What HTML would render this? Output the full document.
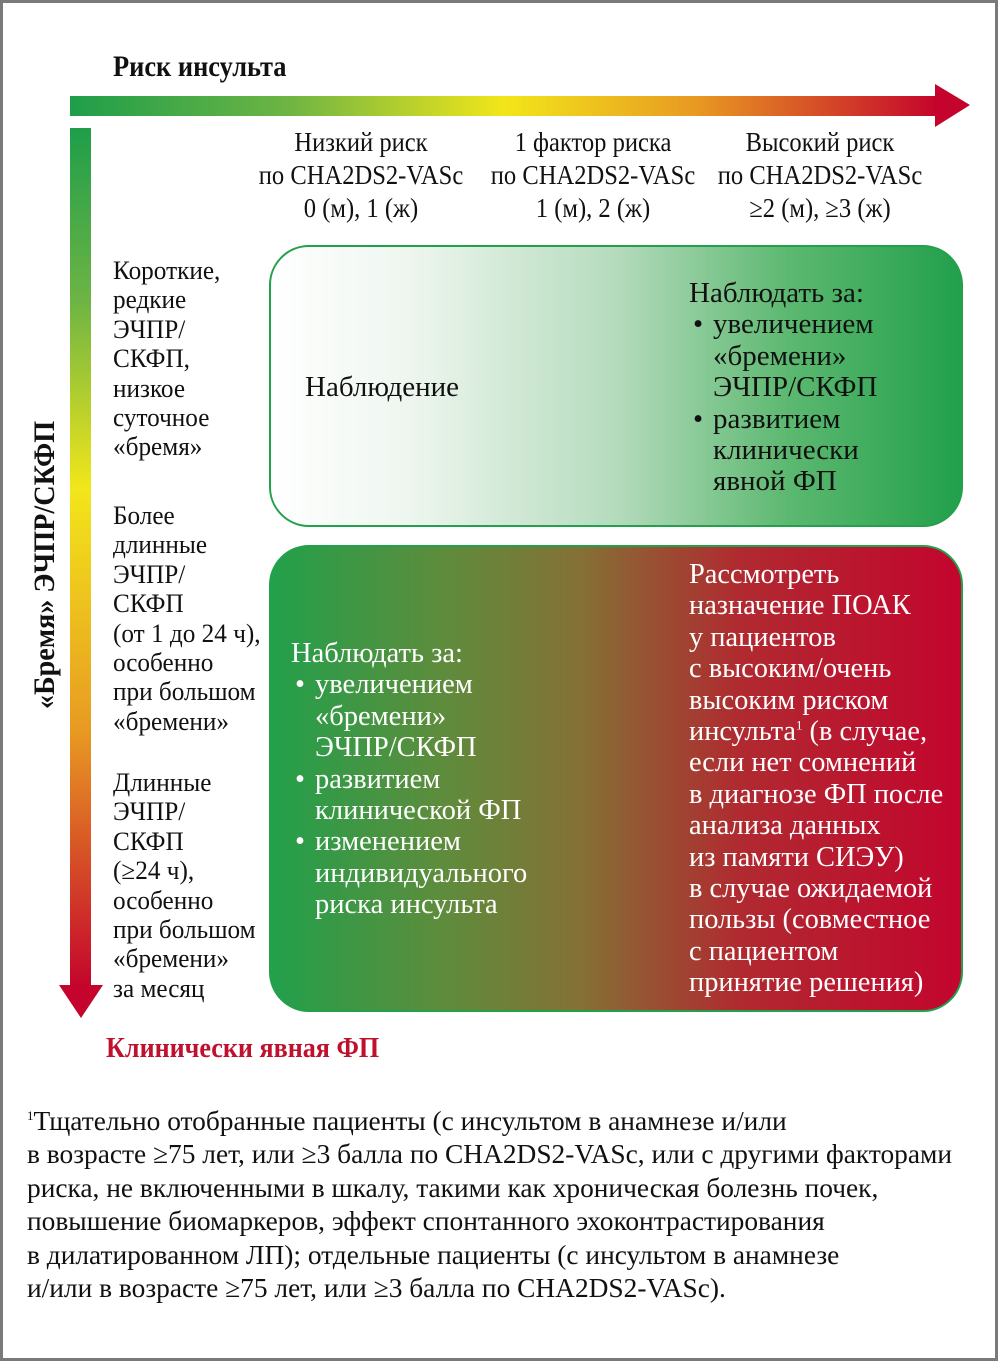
<!DOCTYPE html>
<html><head><meta charset="utf-8"><style>
*{margin:0;padding:0;box-sizing:border-box}
body{width:998px;height:1361px;background:#fff;position:relative;overflow:hidden;font-family:"Liberation Serif",serif;color:#111}
.frame{position:absolute;left:0;top:0;width:998px;height:1361px;border:3px solid #7a7a7a}
.a{position:absolute;white-space:nowrap}
.s{transform:scaleX(.97);transform-origin:left top}
.lab{font-size:26px;line-height:29.4px}
.hd{font-size:27px;line-height:33px;text-align:center;transform:scaleX(.91);transform-origin:center top;width:300px}
.bx{font-size:29px;line-height:31.4px}
.ind{padding-left:24px;position:relative}
.bul{position:absolute;left:4px;top:0}
</style></head><body>
<div class="frame"></div>

<div class="a" style="left:113px;top:50px;font-size:30px;font-weight:bold;transform:scaleX(.88);transform-origin:left top">Риск инсульта</div>

<svg class="a" style="left:0;top:0" width="998" height="1100">
<defs>
<linearGradient id="h" x1="0" x2="1" y1="0" y2="0">
<stop offset="0" stop-color="#1f9e4a"/><stop offset="0.25" stop-color="#6db444"/><stop offset="0.5" stop-color="#f2e61a"/><stop offset="0.72" stop-color="#e89a22"/><stop offset="1" stop-color="#c4042c"/></linearGradient>
<linearGradient id="v" x1="0" x2="0" y1="0" y2="1">
<stop offset="0" stop-color="#1f9e4a"/><stop offset="0.2" stop-color="#6db444"/><stop offset="0.42" stop-color="#f2e61a"/><stop offset="0.7" stop-color="#e89a22"/><stop offset="1" stop-color="#c4042c"/></linearGradient>
</defs>
<rect x="70" y="96" width="868" height="20" fill="url(#h)"/>
<polygon points="935,84 970,105 935,127" fill="#c4042c"/>
<rect x="70" y="128" width="21" height="860" fill="url(#v)"/>
<polygon points="59,985 103,985 81,1018" fill="#c4042c"/>
</svg>

<div class="a" style="left:45px;top:565px;width:0;height:0">
<div style="position:absolute;left:-160px;top:-17px;width:320px;text-align:center;font-size:30px;line-height:34px;font-weight:bold;transform:rotate(-90deg) scaleX(.94)">«Бремя» ЭЧПР/СКФП</div>
</div>

<div class="a hd" style="left:211px;top:126px">Низкий риск<br>по CHA2DS2-VASc<br>0 (м), 1 (ж)</div>
<div class="a hd" style="left:443px;top:126px">1 фактор риска<br>по CHA2DS2-VASc<br>1 (м), 2 (ж)</div>
<div class="a hd" style="left:670px;top:126px">Высокий риск<br>по CHA2DS2-VASc<br>≥2 (м), ≥3 (ж)</div>

<div class="a lab s" style="left:113px;top:256px">Короткие,<br>редкие<br>ЭЧПР/<br>СКФП,<br>низкое<br>суточное<br>«бремя»</div>
<div class="a lab s" style="left:113px;top:501px">Более<br>длинные<br>ЭЧПР/<br>СКФП<br>(от 1 до 24 ч),<br>особенно<br>при большом<br>«бремени»</div>
<div class="a lab s" style="left:113px;top:768px">Длинные<br>ЭЧПР/<br>СКФП<br>(≥24 ч),<br>особенно<br>при большом<br>«бремени»<br>за месяц</div>

<div class="a" style="left:269px;top:245px;width:694px;height:282px;border:2px solid #22a04b;border-radius:40px;background:linear-gradient(90deg,#fff 0%,#eef6ef 20%,#b5dbbd 50%,#5cb870 75%,#22a04b 100%)"></div>
<div class="a bx" style="left:305px;top:372px">Наблюдение</div>
<div class="a bx" style="left:689px;top:278px">Наблюдать за:
<div class="ind"><span class="bul">•</span>увеличением<br>«бремени»<br>ЭЧПР/СКФП</div>
<div class="ind"><span class="bul">•</span>развитием<br>клинически<br>явной ФП</div></div>

<div class="a" style="left:269px;top:545px;width:694px;height:467px;border:2px solid #22a04b;border-radius:40px;background:linear-gradient(90deg,#22a04b 0%,#5e8c3c 25%,#857035 45%,#b02a30 68%,#c3052e 100%)"></div>
<div class="a bx" style="left:291px;top:638px;color:#fff;font-size:28.5px">Наблюдать за:
<div class="ind"><span class="bul">•</span>увеличением<br>«бремени»<br>ЭЧПР/СКФП</div>
<div class="ind"><span class="bul">•</span>развитием<br>клинической ФП</div>
<div class="ind"><span class="bul">•</span>изменением<br>индивидуального<br>риска инсульта</div></div>
<div class="a bx" style="left:689px;top:559px;color:#fff;font-size:28.4px">Рассмотреть<br>назначение ПОАК<br>у пациентов<br>с высоким/очень<br>высоким риском<br>инсульта<sup style="font-size:13px;line-height:0">1</sup> (в случае,<br>если нет сомнений<br>в диагнозе ФП после<br>анализа данных<br>из памяти СИЭУ)<br>в случае ожидаемой<br>пользы (совместное<br>с пациентом<br>принятие решения)</div>

<div class="a" style="left:106px;top:1032px;font-size:29px;font-weight:bold;color:#c0102e;transform:scaleX(.9);transform-origin:left top">Клинически явная ФП</div>

<div class="a" style="left:27px;top:1105px;font-size:27.4px;line-height:33.4px"><sup style="font-size:13px;line-height:0">1</sup>Тщательно отобранные пациенты (с инсультом в анамнезе и/или<br>в возрасте ≥75 лет, или ≥3 балла по CHA2DS2-VASc, или с другими факторами<br>риска, не включенными в шкалу, такими как хроническая болезнь почек,<br>повышение биомаркеров, эффект спонтанного эхоконтрастирования<br>в дилатированном ЛП); отдельные пациенты (с инсультом в анамнезе<br>и/или в возрасте ≥75 лет, или ≥3 балла по CHA2DS2-VASc).</div>
</body></html>
